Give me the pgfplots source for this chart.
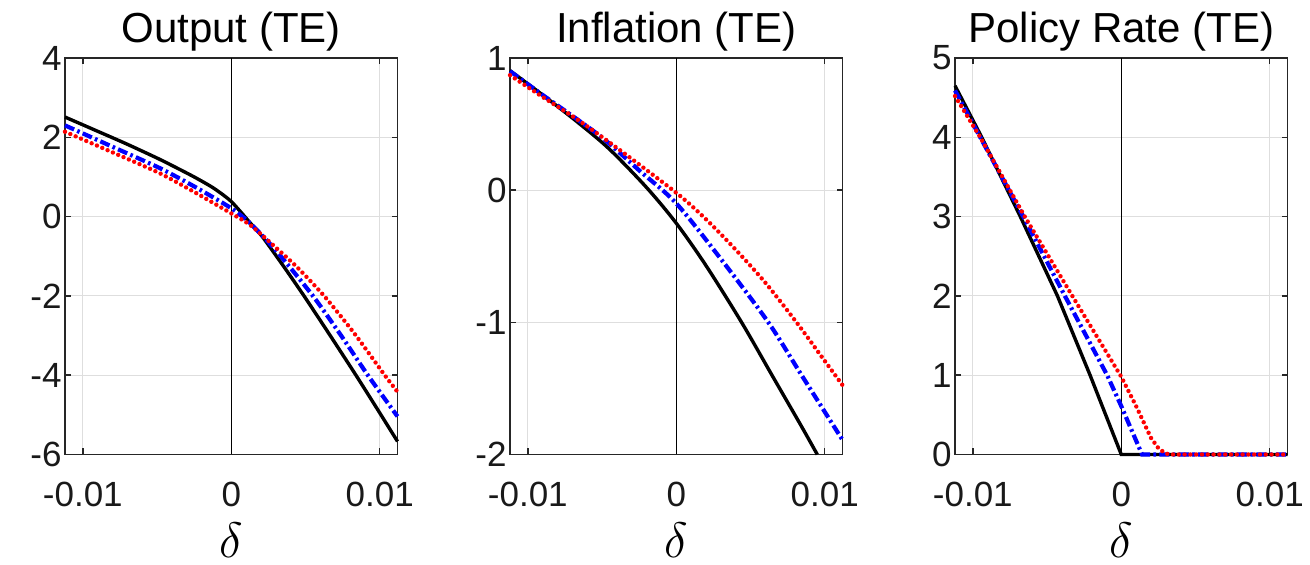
\documentclass[border=0pt]{standalone}
\usepackage{fontspec}
\setmainfont{Liberation Sans}
\usepackage{pgfplots}
\pgfplotsset{compat=1.18}
\definecolor{gridgray}{gray}{0.87}
\definecolor{axgray}{gray}{0.15}
\pgfplotsset{
  myax/.style={
    scale only axis, width=166.25pt, height=198.25pt,
    anchor=south west,
    xmin=-0.0112, xmax=0.0112,
    xtick={-0.01,0,0.01}, xticklabels={-0.01,0,0.01},
    scaled x ticks=false, scaled y ticks=false,
    tick align=inside, major tick length=3pt,
    xtick pos=both, ytick pos=both,
    grid=major, major grid style={gridgray, line width=0.6pt},
    axis line style={axgray, line width=0.9pt},
    tick style={axgray, line width=0.7pt},
    every tick label/.append style={font=\fontsize{17.5}{20}\selectfont, text=black!90},
    xticklabel style={anchor=base, yshift=-26pt},
    yticklabel style={xshift=1.8pt},
    every axis title/.style={at={(0.5,1)}, anchor=base, yshift=7.5pt, font=\fontsize{21}{25}\selectfont},
    xlabel={$\delta$},
    every axis x label/.style={at={(0.5,0)}, anchor=base, yshift=-51.75pt, font=\fontsize{23}{27}\selectfont},
    clip=false,
  },
  blk/.style={black, line width=1.7pt},
  blu/.style={blue, line width=2.1pt, dash pattern=on 5pt off 1.7pt on 1.3pt off 1.7pt},
  rd/.style={red, line width=2.2pt, line cap=round, dash pattern=on 0pt off 2.9pt},
}
\begin{document}
\begin{tikzpicture}[x=1pt,y=1pt]
\useasboundingbox (0,0) rectangle (655,282.5);
% ---------------- Output
\begin{axis}[myax, at={(32.5pt,55.25pt)}, ymin=-6, ymax=4,
  ytick={-6,-4,-2,0,2,4}, yticklabels={-6,-4,-2,0,2,4}, title={Output (TE)}]
\addplot[black, line width=0.6pt, forget plot] coordinates {(0,-6) (0,4)};
\addplot[blk, smooth, tension=0.4] coordinates {(-0.0112,2.51) (-0.0093,2.20) (-0.0071,1.84) (-0.0048,1.44) (-0.0026,1.02) (-0.0012,0.72) (0,0.38) (0.0013,-0.17) (0.0021,-0.51) (0.0035,-1.24) (0.0049,-2.00) (0.0067,-3.02) (0.0084,-4.00) (0.0098,-4.83) (0.0112,-5.67)};
\addplot[blu, smooth, tension=0.4] coordinates {(-0.0112,2.30) (-0.0080,1.76) (-0.0048,1.22) (-0.0024,0.74) (0,0.21) (0.0013,-0.18) (0.0030,-0.85) (0.0055,-2.00) (0.0074,-3.00) (0.0092,-4.00) (0.0112,-5.04)};
\addplot[rd, smooth, tension=0.4] coordinates {(-0.0112,2.14) (-0.0080,1.62) (-0.0048,1.09) (-0.0024,0.60) (0,0.08) (0.0013,-0.22) (0.0030,-0.78) (0.0045,-1.30) (0.0063,-2.02) (0.0083,-2.95) (0.0103,-3.98) (0.0112,-4.42)};
\end{axis}
% ---------------- Inflation
\begin{axis}[myax, at={(255pt,55.25pt)}, ymin=-2, ymax=1,
  ytick={-2,-1,0,1}, yticklabels={-2,-1,0,1}, title={Inflation (TE)}]
\addplot[black, line width=0.6pt, forget plot] coordinates {(0,-2) (0,1)};
\addplot[blk, smooth, tension=0.5] coordinates {(-0.0112,0.904) (-0.0090,0.72) (-0.0066,0.51) (-0.0045,0.31) (-0.0020,0.02) (0,-0.25) (0.0020,-0.57) (0.0044,-1.00) (0.0065,-1.41) (0.0084,-1.78) (0.0095,-2.00)};
\addplot[blu, smooth, tension=0.5] coordinates {(-0.0112,0.90) (-0.0090,0.72) (-0.0066,0.53) (-0.0048,0.38) (-0.0025,0.15) (0,-0.10) (0.0030,-0.52) (0.0062,-1.00) (0.0085,-1.41) (0.0112,-1.89)};
\addplot[rd, smooth, tension=0.5] coordinates {(-0.0112,0.87) (-0.0090,0.705) (-0.0066,0.53) (-0.0040,0.32) (0,-0.02) (0.0020,-0.22) (0.0040,-0.45) (0.0060,-0.70) (0.0081,-1.00) (0.0096,-1.23) (0.0112,-1.475)};
\end{axis}
% ---------------- Policy Rate
\begin{axis}[myax, at={(477.5pt,55.25pt)}, ymin=0, ymax=5,
  ytick={0,1,2,3,4,5}, yticklabels={0,1,2,3,4,5}, title={Policy Rate (TE)}]
\addplot[black, line width=0.6pt, forget plot] coordinates {(0,0) (0,5)};
\addplot[blk] coordinates {(-0.0112,4.65) (-0.0094,4.0) (-0.0068,3.0) (-0.0043,2.0) (-0.0021,1.0) (0,0) (0.0112,0)};
\addplot[blu] coordinates {(-0.0112,4.59) (-0.0095,4.0) (-0.0066,3.0) (-0.0038,2.0) (-0.00095,1.0) (0,0.61) (0.0014,0) (0.0112,0)};
\addplot[rd] coordinates {(-0.0112,4.52) (-0.0095,4.0) (-0.0065,3.0) (-0.0033,2.0) (0,0.98) (0.0010,0.61) (0.0020,0.21) (0.0025,0.08) (0.0030,0.01) (0.0035,0) (0.0112,0)};
\end{axis}
\end{tikzpicture}
\end{document}
